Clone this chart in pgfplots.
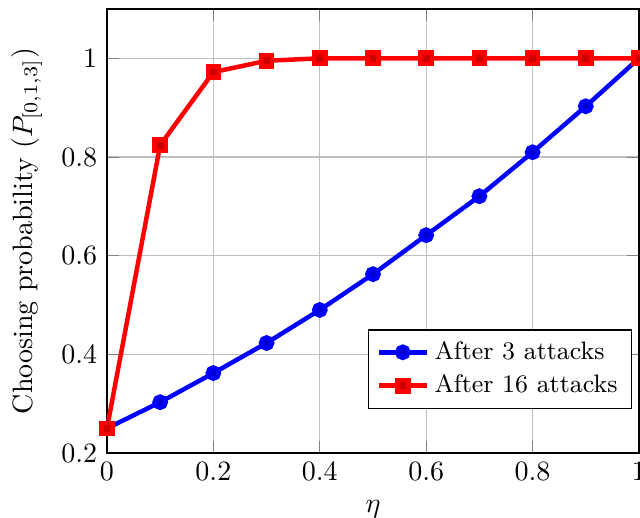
\documentclass[border=0pt]{standalone}
\usepackage{pgfplots}
\pgfplotsset{compat=1.18}
\begin{document}
\begin{tikzpicture}
\begin{axis}[
  scale only axis,
  width=190pt, height=158.6pt,
  xmin=0, xmax=1, ymin=0.2, ymax=1.1,
  xtick={0,0.2,0.4,0.6,0.8,1},
  ytick={0.2,0.4,0.6,0.8,1},
  grid=major,
  xlabel={$\eta$},
  ylabel={Choosing probability ($P_{[0,1,3]}$)},
  legend style={at={(0.987,0.1)}, anchor=south east, font=\small, cells={anchor=west}},
  clip=false,
]
\addplot[blue, ultra thick, mark=*, mark size=2pt, mark options={fill=blue!80!black}] coordinates {
(0,0.25) (0.1,0.303) (0.2,0.362) (0.3,0.423) (0.4,0.490) (0.5,0.5625) (0.6,0.6415) (0.7,0.7205) (0.8,0.8096) (0.9,0.9028) (1,1.0)};
\addlegendentry{After 3 attacks}
\addplot[red, ultra thick, mark=square*, mark size=2pt, mark options={fill=red!80!black}] coordinates {
(0,0.25) (0.1,0.824) (0.2,0.972) (0.3,0.995) (0.4,1) (0.5,1) (0.6,1) (0.7,1) (0.8,1) (0.9,1) (1,1)};
\addlegendentry{After 16 attacks}
\end{axis}
\pgfresetboundingbox
\path[use as bounding box] ([xshift=-38.2pt,yshift=-23.2pt]current axis.south west) rectangle ([xshift=0.36pt,yshift=3.2pt]current axis.north east);
\end{tikzpicture}
\end{document}
